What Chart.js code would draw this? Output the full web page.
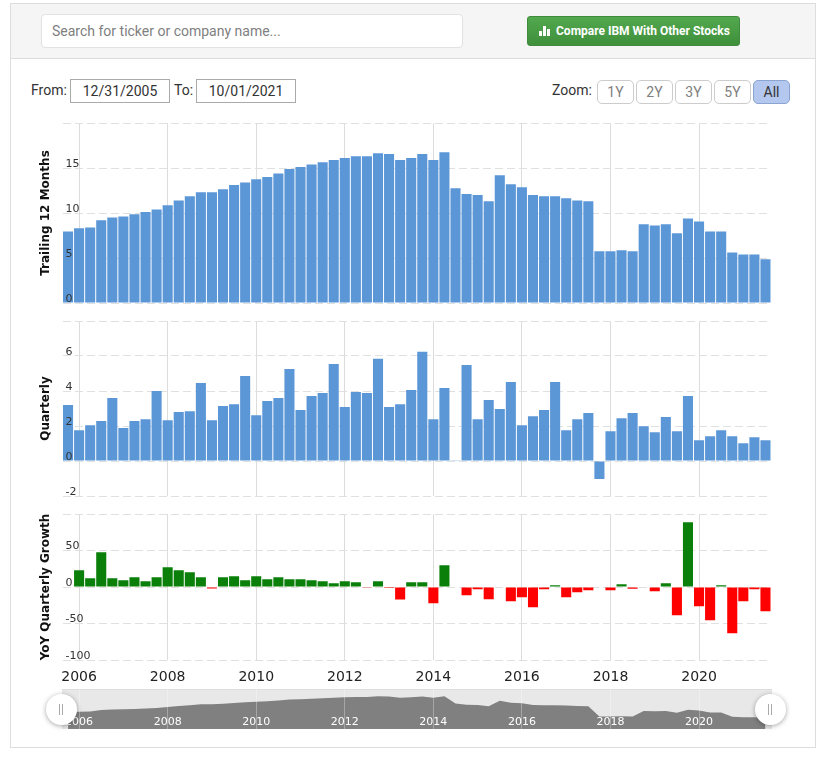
<!DOCTYPE html>
<html>
<head>
<meta charset="utf-8">
<title>IBM EPS</title>
<script src="https://cdn.jsdelivr.net/npm/chart.js@4"></script>
<style>
html, body { margin: 0; padding: 0; background: #fff; }
body { position: relative; width: 819px; height: 758px; overflow: hidden; font-family: Roboto, sans-serif; color: #333; }
.abs { position: absolute; box-sizing: border-box; }
canvas { position: absolute; display: block; }
#frame { left: 10px; top: 3px; width: 806px; height: 745px; border: 1px solid #ddd; }
#header { left: 11px; top: 4px; width: 804px; height: 55px; background: #f5f5f5; border-bottom: 1px solid #ddd; }
#search { left: 41px; top: 14px; width: 422px; height: 34px; background: #fff; border: 1px solid #e2e2e2; border-radius: 4px; font-size: 14px; line-height: 32px; padding-left: 10px; color: #808080; }
#compare { left: 527px; top: 16px; width: 213px; height: 30px; border-radius: 3px; border: 1px solid #3f8a3c; background: linear-gradient(#52a94e, #3f8f3b); color: #fff; font: bold 12px/28px "Liberation Sans Narrow", Roboto, sans-serif; padding-left: 28px; white-space: nowrap; }
.ic { position: absolute; bottom: 9px; width: 3px; background: #fff; }
.lbl { font-size: 14px; line-height: 24px; color: #333; }
.date { top: 79px; width: 100px; height: 24px; border: 1px solid #aaa; font-size: 14px; line-height: 22px; text-align: center; color: #333; }
.zbtn { top: 80px; width: 37px; height: 24px; border: 1px solid #ccc; border-radius: 5px; font-size: 14px; line-height: 22px; text-align: center; color: #808080; background: #fff; }
.zbtn.on { background: #b4c8ef; border-color: #8aa5cf; color: #333; }
#navbg { left: 62px; top: 689px; width: 710px; height: 40px; background: #e8e8e8; border-top: 1px solid #ddd; }
.handle { width: 31px; height: 31px; top: 694px; border-radius: 50%; background: #fff; box-shadow: 0 1px 5px rgba(0,0,0,.35); }
.handle i { position: absolute; top: 10px; width: 1px; height: 11px; background: #aaa; }
</style>
</head>
<body>
<div class="abs" id="frame"></div>
<div class="abs" id="header"></div>
<div class="abs" id="search">Search for ticker or company name...</div>
<div class="abs" id="compare">
  <span class="ic" style="left:11px;height:5px"></span>
  <span class="ic" style="left:15px;height:10px"></span>
  <span class="ic" style="left:19px;height:7px"></span>
  Compare IBM With Other Stocks
</div>
<div class="abs lbl" style="left:31px;top:78px">From:</div>
<div class="abs date" style="left:70px">12/31/2005</div>
<div class="abs lbl" style="left:174px;top:78px">To:</div>
<div class="abs date" style="left:196px">10/01/2021</div>
<div class="abs lbl" style="left:552px;top:78px">Zoom:</div>
<div class="abs zbtn" style="left:597px">1Y</div>
<div class="abs zbtn" style="left:636px">2Y</div>
<div class="abs zbtn" style="left:675px">3Y</div>
<div class="abs zbtn" style="left:714px">5Y</div>
<div class="abs zbtn on" style="left:753px">All</div>

<canvas id="trailing" width="752" height="184" style="left:20px;top:121px"></canvas>
<canvas id="quarterly" width="752" height="179" style="left:20px;top:319px"></canvas>
<canvas id="growth" width="752" height="178" style="left:20px;top:512px"></canvas>
<div class="abs" id="navbg"></div>
<canvas id="navigator" width="752" height="40" style="left:20px;top:689px"></canvas>
<div class="abs handle" style="left:46px"><i style="left:13px"></i><i style="left:16px"></i></div>
<div class="abs handle" style="left:755px"><i style="left:13px"></i><i style="left:16px"></i></div>

<script>
var quarters = [
    '2005-09-30', '2005-12-31', '2006-03-31', '2006-06-30', '2006-09-30', '2006-12-31', '2007-03-31', '2007-06-30',
    '2007-09-30', '2007-12-31', '2008-03-31', '2008-06-30', '2008-09-30', '2008-12-31', '2009-03-31', '2009-06-30',
    '2009-09-30', '2009-12-31', '2010-03-31', '2010-06-30', '2010-09-30', '2010-12-31', '2011-03-31', '2011-06-30',
    '2011-09-30', '2011-12-31', '2012-03-31', '2012-06-30', '2012-09-30', '2012-12-31', '2013-03-31', '2013-06-30',
    '2013-09-30', '2013-12-31', '2014-03-31', '2014-06-30', '2014-09-30', '2014-12-31', '2015-03-31', '2015-06-30',
    '2015-09-30', '2015-12-31', '2016-03-31', '2016-06-30', '2016-09-30', '2016-12-31', '2017-03-31', '2017-06-30',
    '2017-09-30', '2017-12-31', '2018-03-31', '2018-06-30', '2018-09-30', '2018-12-31', '2019-03-31', '2019-06-30',
    '2019-09-30', '2019-12-31', '2020-03-31', '2020-06-30', '2020-09-30', '2020-12-31', '2021-03-31', '2021-06-30'
];
var tickQuarters = ['2005-12-31', '2007-12-31', '2009-12-31', '2011-12-31', '2013-12-31', '2015-12-31', '2017-12-31', '2019-12-31'];
var tickYears = ['2006', '2008', '2010', '2012', '2014', '2016', '2018', '2020'];

var trailing = [
    7.95, 8.3, 8.4, 9.2, 9.5, 9.6, 9.85, 10.1, 10.4, 10.85, 11.4, 11.85, 12.3, 12.3, 12.65, 13.1,
    13.4, 13.75, 14.0, 14.4, 14.9, 15.1, 15.4, 15.65, 15.9, 16.1, 16.3, 16.3, 16.65, 16.55, 15.9, 16.1,
    16.55, 15.9, 16.75, 12.75, 12.1, 12.0, 11.3, 14.2, 13.2, 12.85, 12.0, 11.85, 11.85, 11.65, 11.4, 11.3,
    5.75, 5.75, 5.85, 5.75, 8.75, 8.6, 8.75, 7.75, 9.4, 9.05, 7.95, 7.95, 5.6, 5.4, 5.4, 4.85
];
var quarterly = [
    3.2, 1.76, 2.05, 2.28, 3.6, 1.88, 2.28, 2.39, 4.0, 2.33, 2.8, 2.85, 4.46, 2.33, 3.14, 3.25,
    4.86, 2.62, 3.43, 3.6, 5.26, 2.91, 3.71, 3.89, 5.55, 3.08, 3.94, 3.89, 5.84, 3.08, 3.25, 4.06,
    6.24, 2.39, 4.17, 0.02, 5.49, 2.39, 3.48, 2.97, 4.52, 2.05, 2.56, 2.91, 4.52, 1.76, 2.39, 2.74,
    -1.03, 1.7, 2.45, 2.74, 1.99, 1.65, 2.51, 1.7, 3.71, 1.19, 1.42, 1.76, 1.42, 1.01, 1.36, 1.19
];
var growth = [
    null, 22.8, 11.9, 47.5, 11.9, 9.1, 13.2, 7.8, 13.2, 26.9, 22.8, 20.1, 13.2, -2, 13.2, 14.6,
    9.1, 14.6, 10.5, 13.2, 10.5, 10.5, 9.1, 7.8, 5, 7.8, 6.4, -0.5, 7.8, -1.5, -17, 6.4,
    6.4, -22.4, 29.7, null, -11.4, -3.2, -16.9, null, -19.6, -14.2, -27.9, -3.2, 2.3, -14.2, -7.3, -4.6,
    null, -4.6, 3.7, -2.3, null, -5.9, 5, -38.8, 88.6, -26.5, -45.7, 2.3, -63.5, -19.6, -3.2, -33.3
];

var BLUE = '#5b97d7';
var GREEN = '#0a800a';
var RED = '#ff0000';
var AXIS_W = 42.5;

function xAxis(showLabels) {
    return {
        offset: true,
        grid: { offset: false, color: '#dcdcdc', drawTicks: false },
        border: { display: false },
        afterBuildTicks: function(scale) {
            scale.ticks = scale.ticks.filter(function(t) {
                return tickQuarters.indexOf(quarters[t.value]) >= 0;
            });
        },
        ticks: {
            display: showLabels,
            autoSkip: false,
            maxRotation: 0,
            padding: 9,
            color: '#222',
            font: { family: 'DejaVu Sans', size: 14 },
            callback: function(value) {
                return tickYears[tickQuarters.indexOf(quarters[value])];
            }
        },
        afterFit: function(scale) { scale.height = showLabels ? 30 : 0; }
    };
}

function renderPanel(id, title, values, colors, min, max, step, showLabels) {
    return new Chart(document.getElementById(id), {
        type: 'bar',
        data: {
            labels: quarters,
            datasets: [{ data: values, backgroundColor: colors, barPercentage: 0.91, categoryPercentage: 1 }]
        },
        options: {
            responsive: false,
            animation: false,
            layout: { padding: { top: 2, bottom: showLabels ? 0 : 2, left: 0, right: 1 } },
            plugins: { legend: { display: false }, tooltip: { enabled: false } },
            scales: {
                x: xAxis(showLabels),
                y: {
                    min: min,
                    max: max,
                    grid: { color: '#e0e0e0', drawTicks: false },
                    border: { display: false, dash: [8, 4] },
                    title: {
                        display: true,
                        text: title,
                        color: '#111',
                        padding: { top: 19, bottom: 0 },
                        font: { family: 'DejaVu Sans', size: 12, weight: 'bold' }
                    },
                    ticks: {
                        mirror: true,
                        padding: 3,
                        stepSize: step,
                        z: 1,
                        labelOffset: -4,
                        color: '#333',
                        font: { family: 'DejaVu Sans', size: 11 },
                        callback: function(value) { return value < max ? value : ''; }
                    },
                    afterFit: function(scale) {
                        scale.width = AXIS_W;
                        scale.paddingTop = 0;
                        scale.paddingBottom = 0;
                    }
                }
            }
        }
    });
}

function renderNavigator() {
    var nx = xAxis(true);
    nx.grid = { offset: false, color: 'rgba(255,255,255,0.3)', drawTicks: false, z: 1 };
    nx.ticks.mirror = true;
    nx.ticks.padding = 0.6;
    nx.ticks.z = 1;
    nx.ticks.color = '#fff';
    nx.ticks.font = { family: 'DejaVu Sans', size: 11 };
    nx.afterFit = function(scale) { scale.height = 0; };
    return new Chart(document.getElementById('navigator'), {
        type: 'line',
        data: {
            labels: quarters,
            datasets: [{ data: trailing, borderWidth: 0, pointRadius: 0, fill: 'start', backgroundColor: '#808080' }]
        },
        options: {
            responsive: false,
            animation: false,
            layout: { padding: { left: AXIS_W, right: 1 } },
            plugins: { legend: { display: false }, tooltip: { enabled: false } },
            scales: { x: nx, y: { display: false, min: -1, max: 20.6 } }
        }
    });
}

renderPanel('trailing', 'Trailing 12 Months', trailing, BLUE, 0, 20, 5, false);
renderPanel('quarterly', 'Quarterly', quarterly, BLUE, -2, 8, 2, false);
renderPanel('growth', 'YoY Quarterly Growth', growth, growth.map(function(v) { return v < 0 ? RED : GREEN; }), -100, 100, 50, true);
renderNavigator();
</script>
</body>
</html>
